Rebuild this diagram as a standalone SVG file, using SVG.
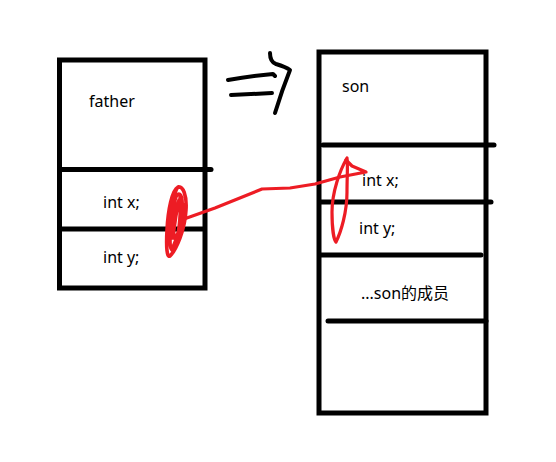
<svg xmlns="http://www.w3.org/2000/svg" width="556" height="462" viewBox="0 0 556 462">
<style>
.box{fill:none;stroke:#000;stroke-width:5}
.ln{stroke:#000;stroke-width:5;stroke-linecap:round;fill:none}
.t{font-family:"Noto Sans","Noto Sans CJK SC",sans-serif;font-size:16px;fill:#000}
.pen{fill:none;stroke:#000;stroke-width:4;stroke-linecap:round;stroke-linejoin:round}
.red{fill:none;stroke:#ed1c24;stroke-width:3.2;stroke-linecap:round;stroke-linejoin:round}
</style>
<rect width="556" height="462" fill="#fff"/>
<g id="father">
  <rect class="box" x="59.5" y="60" width="145.5" height="228"/>
  <line class="ln" x1="60" y1="169.5" x2="211" y2="169.5"/>
  <line class="ln" x1="60" y1="229" x2="204" y2="229"/>
  <text class="t" x="89" y="107">father</text>
  <text class="t" x="103" y="208">int x;</text>
  <text class="t" x="103" y="263">int y;</text>
</g>
<g id="son">
  <rect class="box" x="319" y="52" width="167" height="361"/>
  <line class="ln" x1="323" y1="145" x2="494" y2="145"/>
  <line class="ln" x1="320" y1="202" x2="491" y2="202"/>
  <line class="ln" x1="320" y1="255" x2="481" y2="255"/>
  <line class="ln" x1="328" y1="321" x2="486" y2="321"/>
  <text class="t" x="342" y="92">son</text>
  <text class="t" x="362" y="186">int x;</text>
  <text class="t" x="359" y="234">int y;</text>
  <text class="t" x="361" y="299">...son的成员</text>
</g>
<g id="arrow">
  <path class="pen" d="M228 80 Q250 76 273 74 L275 76"/>
  <path class="pen" d="M231 95 Q252 94 272 93"/>
  <path class="pen" d="M270 53 Q270 62 276 64 Q286 67 290 70 Q282 90 275 113"/>
</g>
<g id="connectors">
  <path class="red" style="stroke-width:3.6" d="M178 187 C172 190 168 210 167 230 C166 248 167 258 170 256 C176 250 185 230 186 210 C187 195 183 186 178 187 C173 192 171 215 170 240 C170 250 172 252 175 246 C180 235 183 212 182 200 C181 192 177 192 175 200 C173 215 172 235 176 240 C180 230 181 210 180 195 M179 200 C176 212 174 228 173 238 M184 205 C182 220 178 236 172 250"/>
  <path class="red" d="M184 219 L215 208 L262 189 L290 188 L315 184 L340 177 L366 172 L352 166 L346 160"/>
  <path class="red" d="M347 158 C340 170 332 192 332 212 C332 228 334 240 336 242 C341 232 347 212 347 192 C347 176 348 166 347 158"/>
</g>
</svg>
